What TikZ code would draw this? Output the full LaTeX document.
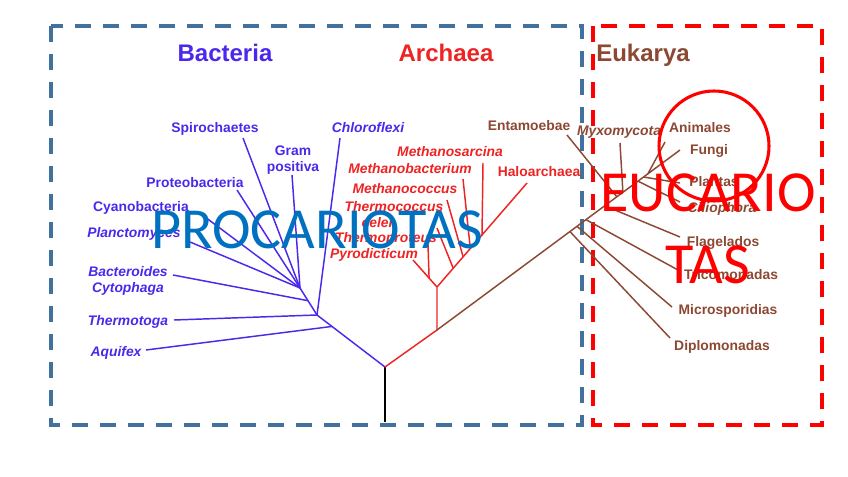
\documentclass[tikz,border=0pt]{standalone}
\usepackage{fontspec}
\setmainfont{Liberation Sans}
\newfontfamily\calibri{Carlito}
\usetikzlibrary{calc}
\definecolor{bactblue}{RGB}{75,40,235}
\definecolor{archred}{RGB}{238,35,35}
\definecolor{eukbrown}{RGB}{140,72,50}
\definecolor{boxblue}{RGB}{66,113,158}
\definecolor{procblue}{RGB}{0,112,192}

\begin{document}
\begin{tikzpicture}[
        x=0.75pt, y=-0.75pt,
        lbl/.style={inner sep=0pt, anchor=base, align=center, font=\fontsize{10.4}{12}\selectfont\bfseries},
        ital/.style={lbl, font=\fontsize{10.4}{12}\selectfont\bfseries\itshape},
        title/.style={inner sep=0pt, anchor=base, font=\fontsize{18}{20}\selectfont\bfseries},
        big/.style={inner sep=0pt, align=center, font=\calibri\fontsize{43.6}{54}\selectfont},
        frame/.style={line width=3pt, dash pattern=on 12pt off 9pt},
        bbr/.style={draw=bactblue, line width=1.1pt},
        abr/.style={draw=archred, line width=1.1pt},
        ebr/.style={draw=eukbrown, line width=1.1pt}
    ]
        \useasboundingbox (0,0) rectangle (848,477);

        % Frames
        \draw[frame, boxblue] (51,26) rectangle (582,425);
        \draw[frame, red] (593,26) rectangle (822,425);

        % Titles
        \node[title, text=bactblue] (bacteria) at (225,62) {Bacteria};
        \node[title, text=archred] (archaea) at (446,62) {Archaea};
        \node[title, text=eukbrown] (eukarya) at (643,62) {Eukarya};

        % Bacteria labels
        \node[lbl, text=bactblue] (spiro) at (215,133) {Spirochaetes};
        \node[lbl, text=bactblue, anchor=center] (gram) at (293,160) {Gram\\positiva};
        \node[ital, text=bactblue] (chloro) at (368,133) {Chloroflexi};
        \node[lbl, text=bactblue] (proteo) at (195,188) {Proteobacteria};
        \node[lbl, text=bactblue] (cyano) at (141,211) {Cyanobacteria};
        \node[ital, text=bactblue] (plancto) at (134,238) {Planctomyces};
        \node[ital, text=bactblue, anchor=center] (bactero) at (128,281) {Bacteroides\\Cytophaga};
        \node[ital, text=bactblue] (thermotoga) at (128,325) {Thermotoga};
        \node[ital, text=bactblue] (aquifex) at (116,356) {Aquifex};

        % Archaea labels
        \node[ital, text=archred] (msarcina) at (450,157) {Methanosarcina};
        \node[ital, text=archred] (mbact) at (410,174) {Methanobacterium};
        \node[lbl, text=archred] (halo) at (539,177) {Haloarchaea};
        \node[ital, text=archred] (mcoccus) at (405,194) {Methanococcus};
        \node[ital, text=archred, anchor=center, align=left] (tcoccus) at (394,215) {Thermococcus\\\hspace*{12.7pt}celer};
        \node[ital, text=archred] (tproteus) at (386,242) {Thermoproteus};
        \node[ital, text=archred] (pyro) at (374,258) {Pyrodicticum};

        % Eukarya labels
        \node[lbl, text=eukbrown] (entam) at (529,131) {Entamoebae};
        \node[ital, text=eukbrown] (myxo) at (619,136) {Myxomycota};
        \node[lbl, text=eukbrown] (anim) at (700,133) {Animales};
        \node[lbl, text=eukbrown] (fungi) at (709,155) {Fungi};
        \node[lbl, text=eukbrown] (plant) at (714,187) {Plantas};
        \node[ital, text=eukbrown] (cilio) at (722,212) {Ciliophora};
        \node[lbl, text=eukbrown] (flag) at (723,246) {Flagelados};
        \node[lbl, text=eukbrown] (trico) at (731,279) {Tricomonadas};
        \node[lbl, text=eukbrown] (micro) at (728,314) {Microsporidias};
        \node[lbl, text=eukbrown] (diplo) at (722,350) {Diplomonadas};

        % Tree points
        \coordinate (rootend) at (385,422);
        \coordinate (root) at (385,367);
        \coordinate (bnode) at (317,315);
        \coordinate (bsub) at (300,288);
        \coordinate (anode) at (437,330);
        \coordinate (asub) at (437,287);
        \coordinate (spirotip) at (243,138);
        \coordinate (gramtip) at (292,175);
        \coordinate (chlorotip) at (340,138);
        \coordinate (proteotip) at (237,190);
        \coordinate (cyanotip) at (201,214);
        \coordinate (planctotip) at (190,242);
        \coordinate (bacterotip) at (173,275);
        \coordinate (thermotogatip) at (174,320);
        \coordinate (aquifextip) at (146,350);
        \coordinate (pyrotip) at (413,260);
        \coordinate (tproteustip) at (428,245);
        \coordinate (tcoccustip) at (437,228);
        \coordinate (mcoccustip) at (447,200);
        \coordinate (mbacttip) at (463,179);
        \coordinate (msarcinatip) at (483,163);
        \coordinate (halotip) at (527,183);
        \coordinate (fungitip) at (680,150);
        \coordinate (entamtip) at (567,135);
        \coordinate (myxotip) at (620,143);
        \coordinate (animtip) at (665,142);
        \coordinate (planttip) at (680,183);
        \coordinate (ciliotip) at (680,202);
        \coordinate (flagtip) at (680,237);
        \coordinate (tricotip) at (678,270);
        \coordinate (microtip) at (672,307);
        \coordinate (diplotip) at (670,338);

        % Root
        \draw[line width=1.4pt] (root) -- (rootend);

        % Bacteria branches
        \draw[bbr] (root) -- (bnode) -- (bsub);
        \draw[bbr] ($(root)!0.78!(bnode)$) -- (aquifextip);
        \draw[bbr] (bnode) -- (thermotogatip);
        \draw[bbr] (bnode) -- (chlorotip);
        \draw[bbr] ($(bnode)!0.53!(bsub)$) -- (bacterotip);
        \foreach \t in {spirotip, gramtip, proteotip, cyanotip, planctotip}
            \draw[bbr] (bsub) -- (\t);

        % Archaea branches
        \draw[abr] (root) -- (anode) -- (asub);
        \draw[abr] (asub) -- (pyrotip);
        \draw[abr] (asub) -- (halotip);
        \draw[abr] ($(asub)!0.33!(pyrotip)$) -- (tproteustip);
        \draw[abr] ($(asub)!0.18!(halotip)$) -- (tcoccustip);
        \draw[abr] ($(asub)!0.29!(halotip)$) -- (mcoccustip);
        \draw[abr] ($(asub)!0.37!(halotip)$) -- (mbacttip);
        \draw[abr] ($(asub)!0.5!(halotip)$) -- (msarcinatip);

        % Eukarya branches
        \draw[ebr] (anode) -- (fungitip);
        \draw[ebr] ($(anode)!0.547!(fungitip)$) -- (diplotip);
        \draw[ebr] ($(anode)!0.576!(fungitip)$) -- (microtip);
        \draw[ebr] ($(anode)!0.613!(fungitip)$) -- (tricotip);
        \draw[ebr] ($(anode)!0.69!(fungitip)$) -- (flagtip);
        \draw[ebr] ($(anode)!0.74!(fungitip)$) -- (entamtip);
        \draw[ebr] ($(anode)!0.765!(fungitip)$) -- (myxotip);
        \draw[ebr] ($(anode)!0.827!(fungitip)$) -- (ciliotip);
        \draw[ebr] ($(anode)!0.85!(fungitip)$) -- (planttip);
        \draw[ebr] ($(anode)!0.868!(fungitip)$) -- (animtip);

        % Overlays
        \node[big, text=procblue, anchor=base] (procariotas) at (317,248) {PROCARIOTAS};
        \node[big, text=red] (eucariotas) at (708,229) {EUCARIO\\TAS};
        \draw[red, line width=2.3pt] (714,146) circle [radius=55];
    \end{tikzpicture}
\end{document}
